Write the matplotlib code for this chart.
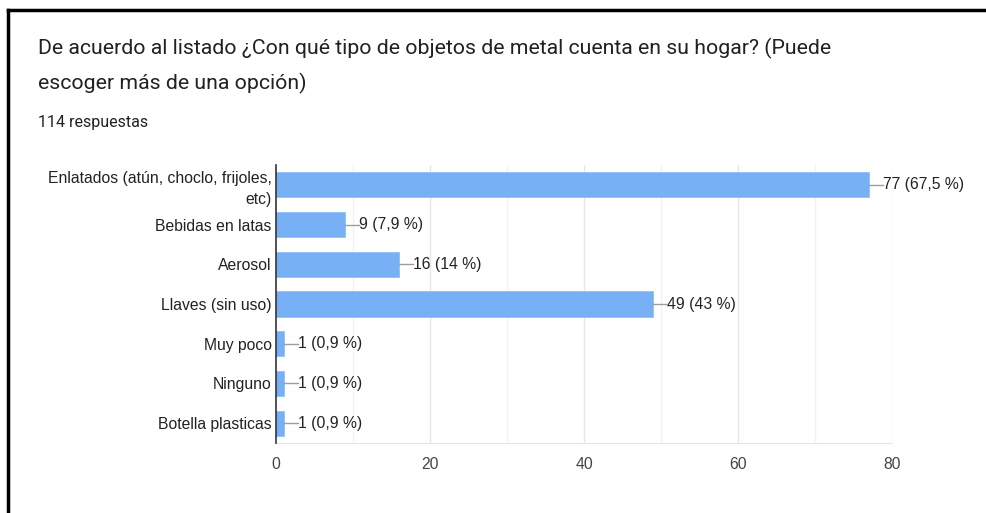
import matplotlib
matplotlib.use("Agg")
import matplotlib.pyplot as plt
from matplotlib.lines import Line2D

categories = ["Enlatados (atún, choclo, frijoles,\netc)", "Bebidas en latas", "Aerosol",
              "Llaves (sin uso)", "Muy poco", "Ninguno", "Botella plasticas"]
values = [77, 9, 16, 49, 1, 1, 1]
pct_labels = ["67,5 %", "7,9 %", "14 %", "43 %", "0,9 %", "0,9 %", "0,9 %"]
xticks = [0, 20, 40, 60, 80]
minor_ticks = [10, 30, 50, 70]

title = "De acuerdo al listado ¿Con qué tipo de objetos de metal cuenta en su hogar? (Puede\nescoger más de una opción)"
subtitle = "114 respuestas"

fig = plt.figure(figsize=(9.87, 5.13), dpi=100)
ax = fig.add_axes([276/987, 1-443/513, (892-276)/987, (443-165)/513])

font = "Liberation Sans"
fs = 11.3
y = list(range(len(categories)))
ax.barh(y, values, height=0.63, color="#77b0f4", edgecolor="#8fc0f7", linewidth=0.6, zorder=3)
ax.set_ylim(len(categories)-0.5, -0.5)
ax.set_xlim(0, 80)
ax.set_yticks(y)
ax.set_yticklabels(categories, fontsize=fs, family=font, color="#222222", linespacing=1.45)
ax.set_xticks(xticks)
ax.set_xticklabels([str(t) for t in xticks], fontsize=fs, family=font, color="#444444")
ax.tick_params(axis="y", length=0, pad=3)
ax.tick_params(axis="x", length=0, pad=10)

for t in minor_ticks:
    ax.axvline(t, color="#f2f2f2", lw=1, zorder=1)
for t in xticks[1:]:
    ax.axvline(t, color="#e6e6e6", lw=1, zorder=1)

for s in ["top", "right"]:
    ax.spines[s].set_visible(False)
ax.spines["bottom"].set_color("#e6e6e6")
ax.spines["left"].set_color("#333333")
ax.spines["left"].set_linewidth(1.2)
ax.spines["left"].set_zorder(4)

for yi, v, p in zip(y, values, pct_labels):
    ax.plot([v, v+1.8], [yi, yi], color="#9e9e9e", lw=1, zorder=4, clip_on=False)
    ax.text(v+1.8, yi, f"{v} ({p})", va="center", ha="left", fontsize=fs, family=font,
            color="#222222", clip_on=False)

fig.text(38/987, 1-48/513, title.split("\n")[0], fontsize=15.3, family="Roboto",
         color="#202124", va="center", ha="left")
fig.text(38/987, 1-83/513, title.split("\n")[1], fontsize=15.3, family="Roboto",
         color="#202124", va="center", ha="left")
fig.text(38/987, 1-122/513, subtitle, fontsize=11.5, family="Roboto",
         color="#202124", va="center", ha="left")

fig.add_artist(Line2D([8/987, 1], [1-10/513, 1-10/513], color="black", lw=2.5, transform=fig.transFigure))
fig.add_artist(Line2D([8/987, 8/987], [0, 1-10/513], color="black", lw=2.5, transform=fig.transFigure))

fig.savefig("out.png", dpi=100, facecolor="white")
